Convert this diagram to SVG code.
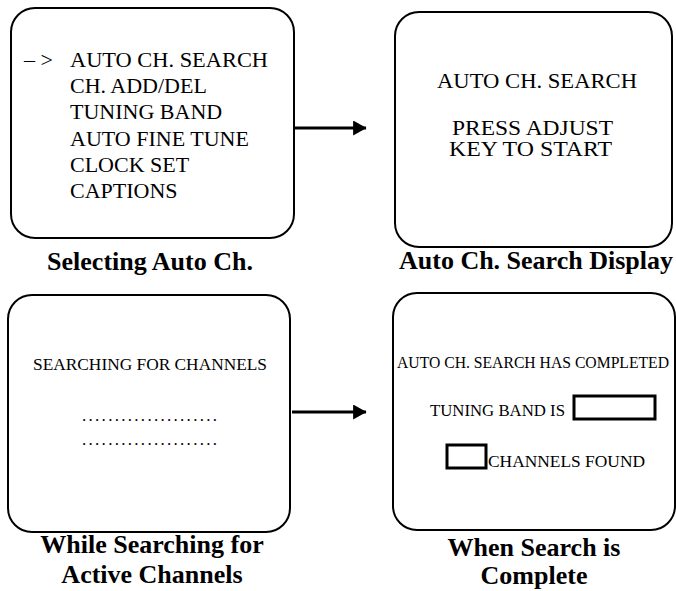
<svg xmlns="http://www.w3.org/2000/svg" width="676" height="591" viewBox="0 0 676 591">
<style>
.scr{fill:#fff;stroke:#000;stroke-width:2}
.t{font-family:"Liberation Serif","Times New Roman",serif;fill:#000}
.m{font-size:22px}
.m2{font-size:20px}
.s{font-size:17px}
.cap{font-size:26px;font-weight:bold;text-anchor:middle}
.fld{fill:none;stroke:#000;stroke-width:3}
.conn{stroke:#000;stroke-width:3;fill:none}
</style>
<defs>
<marker id="ah" markerWidth="5" markerHeight="6" refX="4.3" refY="2.5" orient="auto" markerUnits="strokeWidth">
<path d="M0,0 L4.5,2.5 L0,5 Z" fill="#000"/>
</marker>
</defs>
<rect width="676" height="591" fill="#fff"/>
<g id="connectors">
<line class="conn" x1="294" y1="128" x2="366" y2="128" marker-end="url(#ah)"/>
<line class="conn" x1="292" y1="412" x2="366" y2="412" marker-end="url(#ah)"/>
</g>
<g id="selecting">
<rect class="scr" x="11" y="8" width="283" height="230" rx="24" ry="24"/>
<text class="t m" x="24" y="67">– &gt;</text>
<text class="t m" x="70" y="67" textLength="198" lengthAdjust="spacingAndGlyphs">AUTO CH. SEARCH</text>
<text class="t m" x="70" y="93">CH. ADD/DEL</text>
<text class="t m" x="70" y="119">TUNING BAND</text>
<text class="t m" x="70" y="146">AUTO FINE TUNE</text>
<text class="t m" x="70" y="172">CLOCK SET</text>
<text class="t m" x="70" y="198">CAPTIONS</text>
<text class="t cap" x="150" y="270">Selecting Auto Ch.</text>
</g>
<g id="display">
<rect class="scr" x="395" y="12" width="277" height="235" rx="24" ry="24"/>
<text class="t m" x="437" y="88" textLength="200" lengthAdjust="spacingAndGlyphs">AUTO CH. SEARCH</text>
<text class="t m2" x="452" y="135" textLength="161" lengthAdjust="spacingAndGlyphs">PRESS ADJUST</text>
<text class="t m2" x="449" y="156" textLength="163" lengthAdjust="spacingAndGlyphs">KEY TO START</text>
<text class="t cap" x="536" y="269">Auto Ch. Search Display</text>
</g>
<g id="searching">
<rect class="scr" x="8" y="295" width="282" height="237" rx="24" ry="24"/>
<text class="t s" x="33" y="370" textLength="234" lengthAdjust="spacingAndGlyphs">SEARCHING FOR CHANNELS</text>
<text class="t s" x="82" y="421" textLength="135" lengthAdjust="spacing">.....................</text>
<text class="t s" x="82" y="445" textLength="135" lengthAdjust="spacing">.....................</text>
<text class="t cap" x="152" y="553">While Searching for</text>
<text class="t cap" x="152" y="583">Active Channels</text>
</g>
<g id="complete">
<rect class="scr" x="393" y="293" width="282" height="237" rx="24" ry="24"/>
<text class="t s" x="397" y="368" textLength="272" lengthAdjust="spacingAndGlyphs">AUTO CH. SEARCH HAS COMPLETED</text>
<text class="t s" x="430" y="416" textLength="135" lengthAdjust="spacingAndGlyphs">TUNING BAND IS</text>
<rect class="fld" x="574" y="396" width="81" height="23"/>
<rect class="fld" x="447" y="445" width="39" height="23"/>
<text class="t s" x="488" y="467" textLength="157" lengthAdjust="spacingAndGlyphs">CHANNELS FOUND</text>
<text class="t cap" x="534" y="556">When Search is</text>
<text class="t cap" x="534" y="584">Complete</text>
</g>
</svg>
